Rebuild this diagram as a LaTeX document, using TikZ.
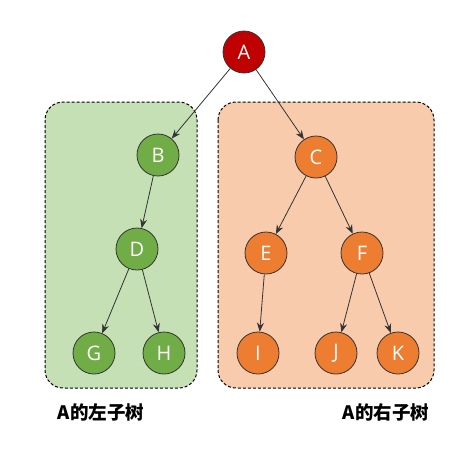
\documentclass[tikz,border=0pt]{standalone}
\usepackage{fontspec}
\setmainfont{Open Sans}
\newfontfamily\cjk{Noto Sans CJK SC}
\usetikzlibrary{arrows.meta,positioning}
\definecolor{rootred}{HTML}{C00000}
\definecolor{leftgreen}{HTML}{70AD47}
\definecolor{rightorange}{HTML}{ED7D31}
\definecolor{leftbg}{HTML}{C5E0B4}
\definecolor{rightbg}{HTML}{F8CBAD}
\definecolor{edgegray}{HTML}{333333}

\tikzset{
    treenode/.style={circle, draw=edgegray, line width=0.8pt, minimum size=42pt, inner sep=0pt,
        text=white, font=\fontsize{20}{20}\selectfont},
    subtree/.style={draw=black, line width=1pt, dash pattern=on 3pt off 2pt, rounded corners=18pt},
    edge/.style={-{Stealth[length=9pt,width=7pt]}, edgegray, line width=0.8pt},
    caption/.style={font=\cjk\bfseries\fontsize{18.5}{18.5}\selectfont}
}

\begin{document}
\begin{tikzpicture}[x=1pt, y=-1pt]
        \useasboundingbox (0,0) rectangle (460,448);

        % Subtree boxes
        \draw[subtree, fill=leftbg] (45,102) rectangle (197,388);
        \draw[subtree, fill=rightbg] (218,102) rectangle (434,388);

        % Root
        \node[treenode, fill=rootred] (A) at (244,52) {A};

        % Left subtree
        \node[treenode, fill=leftgreen] (B) at (158,155) {B};
        \node[treenode, fill=leftgreen] (D) at (137,249) {D};
        \node[treenode, fill=leftgreen] (G) at (94,353) {G};
        \node[treenode, fill=leftgreen] (H) at (164,353) {H};

        % Right subtree
        \node[treenode, fill=rightorange] (C) at (316,157) {C};
        \node[treenode, fill=rightorange] (E) at (266,253) {E};
        \node[treenode, fill=rightorange] (F) at (362,253) {F};
        \node[treenode, fill=rightorange] (I) at (258,353) {I};
        \node[treenode, fill=rightorange] (J) at (336,353) {J};
        \node[treenode, fill=rightorange] (K) at (398,353) {K};

        % Edges
        \foreach \from/\to in {A/B, A/C, B/D, D/G, D/H, C/E, C/F, E/I, F/J, F/K} {
            \draw[edge] (\from) -- (\to);
        }

        % Captions
        \node[caption] (leftcap) at (101,412) {A的左子树};
        \node[caption] (rightcap) at (386,412) {A的右子树};
    \end{tikzpicture}
\end{document}
